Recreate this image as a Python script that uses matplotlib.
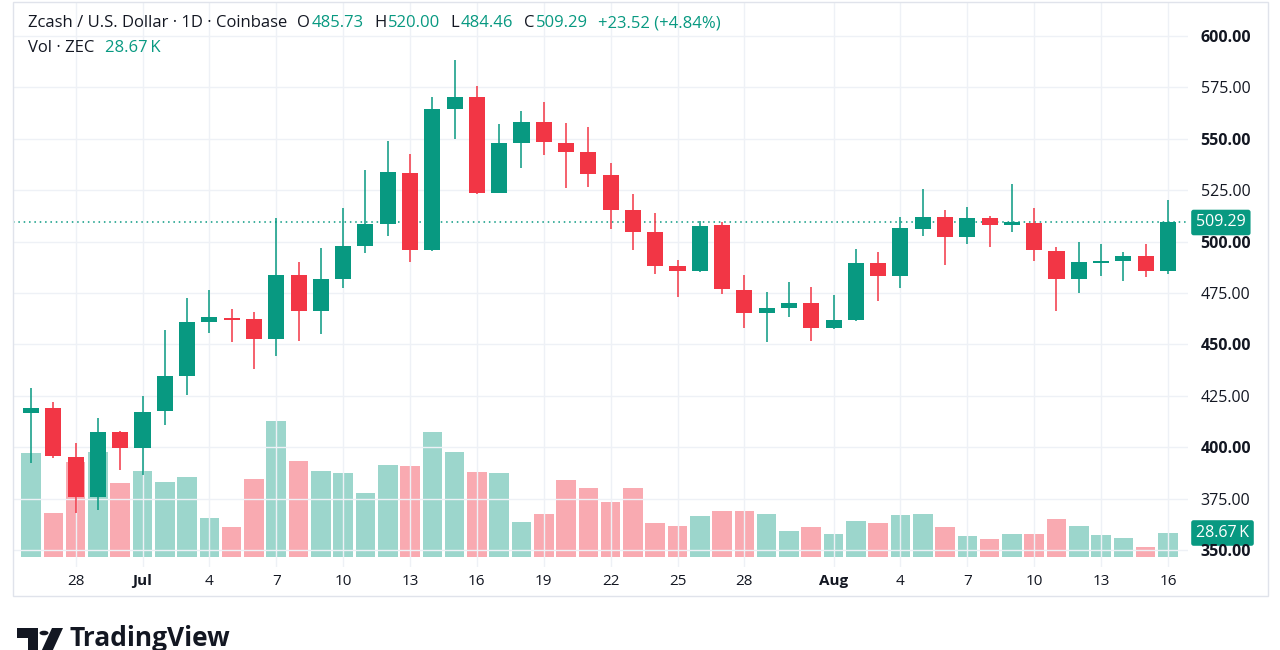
import numpy as np
import pandas as pd
import matplotlib
matplotlib.use("Agg")
import matplotlib.pyplot as plt
import matplotlib.dates as mdates
from matplotlib.patches import Rectangle, Circle, Polygon

plt.rcParams["font.family"] = ["Open Sans", "DejaVu Sans"]

GREEN = "#089981"
RED = "#F23645"
TEXT = "#131722"
GRID = "#eef1f6"

# ── data ─────────────────────────────────────────────────────────
dates = pd.date_range("2025-06-26", "2025-08-16", freq="D")
opens = [416.6, 419.1, 395.2, 375.8, 407.4, 399.6, 417.6, 434.6, 460.9, 463.0,
         462.4, 452.6, 483.8, 466.3, 481.8, 497.9, 508.6, 533.4, 495.9, 564.5,
         570.3, 523.6, 548.0, 558.2, 548.0, 543.6, 532.4, 515.4, 504.7, 488.1,
         485.7, 508.1, 476.5, 465.3, 467.7, 470.1, 458.0, 461.9, 489.6, 483.3,
         506.1, 512.0, 502.2, 511.5, 508.1, 509.0, 495.4, 481.8, 489.6, 490.6,
         493.0, 485.73]
highs = [428.8, 422.0, 402.0, 414.2, 408.0, 424.9, 457.0, 472.6, 476.5, 467.2,
         465.8, 511.5, 490.1, 496.9, 516.3, 534.8, 548.9, 542.6, 570.3, 588.3,
         575.7, 557.2, 563.5, 567.9, 557.7, 555.7, 538.2, 523.2, 513.9, 491.1,
         510.0, 509.5, 483.8, 475.5, 480.4, 477.9, 474.0, 496.4, 494.9, 512.0,
         525.6, 515.4, 516.8, 512.5, 528.0, 516.3, 497.4, 499.8, 498.8, 494.9,
         498.8, 520.00]
lows = [392.3, 394.7, 368.0, 369.5, 388.9, 386.5, 410.8, 425.4, 455.5, 451.2,
        438.0, 444.4, 451.7, 455.1, 477.4, 494.5, 502.7, 490.1, 495.5, 549.9,
        523.2, 523.4, 535.8, 542.1, 526.1, 526.6, 506.1, 495.9, 484.2, 473.1,
        485.2, 474.5, 458.0, 451.2, 463.3, 451.7, 457.6, 461.5, 471.1, 477.4,
        502.7, 488.6, 498.8, 497.4, 504.7, 490.6, 466.3, 475.0, 483.3, 480.8,
        482.8, 484.46]
closes = [419.1, 395.7, 375.8, 407.4, 399.6, 417.1, 434.6, 460.9, 463.3, 462.2,
          452.6, 483.8, 466.3, 481.8, 497.9, 508.6, 533.9, 495.9, 564.5, 570.3,
          523.6, 548.0, 558.2, 548.4, 543.6, 532.9, 515.4, 504.7, 488.1, 485.7,
          507.6, 476.9, 465.3, 467.7, 470.1, 458.0, 461.9, 489.6, 483.3, 506.6,
          512.0, 502.2, 511.5, 508.1, 509.5, 495.9, 481.8, 490.1, 490.4, 493.0,
          485.77, 509.29]
volumes_k = [124.3, 52.6, 113.5, 125.4, 88.4, 102.7, 89.6, 95.6, 46.6, 35.8,
             93.2, 162.5, 114.7, 102.7, 100.4, 76.5, 109.9, 108.7, 149.3, 125.4,
             101.6, 100.4, 41.8, 51.4, 92.0, 82.4, 65.7, 82.4, 40.6, 37.0,
             49.0, 55.0, 55.0, 51.4, 31.1, 35.8, 27.5, 43.0, 40.6, 50.2,
             51.4, 35.8, 25.1, 21.5, 27.5, 27.5, 45.4, 37.0, 26.3, 22.7,
             11.9, 28.67]

tick_dates = ["2025-06-28", "2025-07-01", "2025-07-04", "2025-07-07", "2025-07-10",
              "2025-07-13", "2025-07-16", "2025-07-19", "2025-07-22", "2025-07-25",
              "2025-07-28", "2025-08-01", "2025-08-04", "2025-08-07", "2025-08-10",
              "2025-08-13", "2025-08-16"]
tick_labels = ["28", "Jul", "4", "7", "10", "13", "16", "19", "22", "25",
               "28", "Aug", "4", "7", "10", "13", "16"]
price_ticks = np.arange(350, 601, 25)

o = np.array(opens)
h = np.array(highs)
l = np.array(lows)
c = np.array(closes)
v = np.array(volumes_k)
x = mdates.date2num(dates)
up = c >= o
col = np.where(up, GREEN, RED)
vol_col = [(0.031, 0.6, 0.506, 0.4) if u else (0.949, 0.212, 0.271, 0.42) for u in up]

# ── figure / axes layout (pixels of a 1280x650 canvas) ───────────
W, H = 1280, 650
fig = plt.figure(figsize=(12.8, 6.5), dpi=100)
rect = [13 / W, 1 - 567 / H, (1188 - 13) / W, (567 - 3) / H]
ax_vol = fig.add_axes(rect)
ax = fig.add_axes(rect, sharex=ax_vol)
ax.patch.set_visible(False)
ax_vol.axis("off")

# volume
ax_vol.bar(x, v, width=0.88, color=vol_col, edgecolor="none")
ax_vol.set_ylim(-11.95, 661.9)

# candles
body = c - o
body = np.where(np.abs(body) < 1.0, np.where(up, 1.0, -1.0), body)
ax.vlines(x, l, h, colors=col, linewidth=1.1, zorder=3)
ax.bar(x, body, bottom=o, width=0.72, color=col, edgecolor="none", zorder=4)

ax.set_xlim(x[0] - 0.81, x[-1] + 0.9)
ax.set_ylim(341.73, 616.05)

ax.set_yticks(price_ticks)
ax.set_yticklabels([f"{p:.2f}" for p in price_ticks])
ax.yaxis.tick_right()
ax.tick_params(axis="y", length=0, pad=9, labelsize=11.5, labelcolor=TEXT)
for i, lab in enumerate(ax.get_yticklabels()):
    if i % 2 == 0:
        lab.set_fontweight("bold")

ax.set_xticks(mdates.date2num(pd.to_datetime(tick_dates)))
ax.set_xticklabels(tick_labels)
ax.tick_params(axis="x", length=0, pad=5, labelsize=11, labelcolor=TEXT)
for lab in ax.get_xticklabels():
    if lab.get_text() in ("Jul", "Aug"):
        lab.set_fontweight("bold")

for s in ax.spines.values():
    s.set_visible(False)
ax.grid(True, color=GRID, linewidth=1)
ax.set_axisbelow(True)

# last price line + labels
ax.axhline(c[-1], color=GREEN, linestyle=(0, (1, 2.5)), linewidth=1.1, zorder=2)
ax.annotate(f"{c[-1]:.2f}", xy=(1, c[-1]), xycoords=ax.get_yaxis_transform(),
            xytext=(8, 0), textcoords="offset pixels", ha="left", va="center",
            color="white", fontsize=11.5, annotation_clip=False,
            bbox=dict(boxstyle="round,pad=0.3,rounding_size=0.15", fc=GREEN, ec="none"))
ax_vol.annotate(f"{v[-1]:.2f}\u2009K", xy=(1, v[-1]), xycoords=ax_vol.get_yaxis_transform(),
                xytext=(8, 0), textcoords="offset pixels", ha="left", va="center",
                color="white", fontsize=11.5, annotation_clip=False,
                bbox=dict(boxstyle="round,pad=0.3,rounding_size=0.15", fc=GREEN, ec="none"))

# ── header legend ────────────────────────────────────────────────
chg = c[-1] - c[-2]
pct = chg / c[-2] * 100


def chain(parts, x0, y0, size=12):
    prev = fig.text(x0 / W, 1 - y0 / H, parts[0][0], color=parts[0][1],
                    fontsize=size, va="center", ha="left")
    for s, colr, gap in parts[1:]:
        prev = ax.annotate(s, xy=(1, 0), xycoords=prev, xytext=(gap, 0),
                           textcoords="offset pixels", va="bottom", ha="left",
                           color=colr, fontsize=size, annotation_clip=False)


chain([("Zcash / U.S. Dollar · 1D · Coinbase", TEXT, 0),
       ("O", TEXT, 10), (f"{o[-1]:.2f}", GREEN, 1),
       ("H", TEXT, 11), (f"{h[-1]:.2f}", GREEN, 1),
       ("L", TEXT, 11), (f"{l[-1]:.2f}", GREEN, 1),
       ("C", TEXT, 11), (f"{c[-1]:.2f}", GREEN, 1),
       (f"{chg:+.2f} ({pct:+.2f}%)", GREEN, 10)], 28, 23)
chain([("Vol · ZEC", TEXT, 0), (f"{v[-1]:.2f}\u2009K", GREEN, 11)], 28, 48)

# ── frame and TradingView mark ───────────────────────────────────
fig.patches.append(Rectangle((13 / W, 1 - 596 / H), (1268 - 13) / W, (596 - 2) / H,
                             transform=fig.transFigure, fill=False,
                             edgecolor="#e0e3eb", linewidth=1))


def px(pts):
    return [(a / W, 1 - b / H) for a, b in pts]


fig.patches.append(Polygon(px([(17, 628), (38, 628), (38, 652), (28, 652), (28, 638), (17, 638)]),
                           closed=True, transform=fig.transFigure, fc="#131722", ec="none"))
fig.patches.append(Circle((44 / W, 1 - 633 / H), 4.5 / W, transform=fig.transFigure,
                          fc="#131722", ec="none"))
fig.patches.append(Polygon(px([(52, 628), (63, 628), (52, 652), (41, 652)]),
                           closed=True, transform=fig.transFigure, fc="#131722", ec="none"))
fig.text(69 / W, 1 - 646 / H, "TradingView", fontsize=19, fontweight="bold",
         color="#131722", va="baseline", ha="left")

fig.savefig("out.png", dpi=100, facecolor="white")
